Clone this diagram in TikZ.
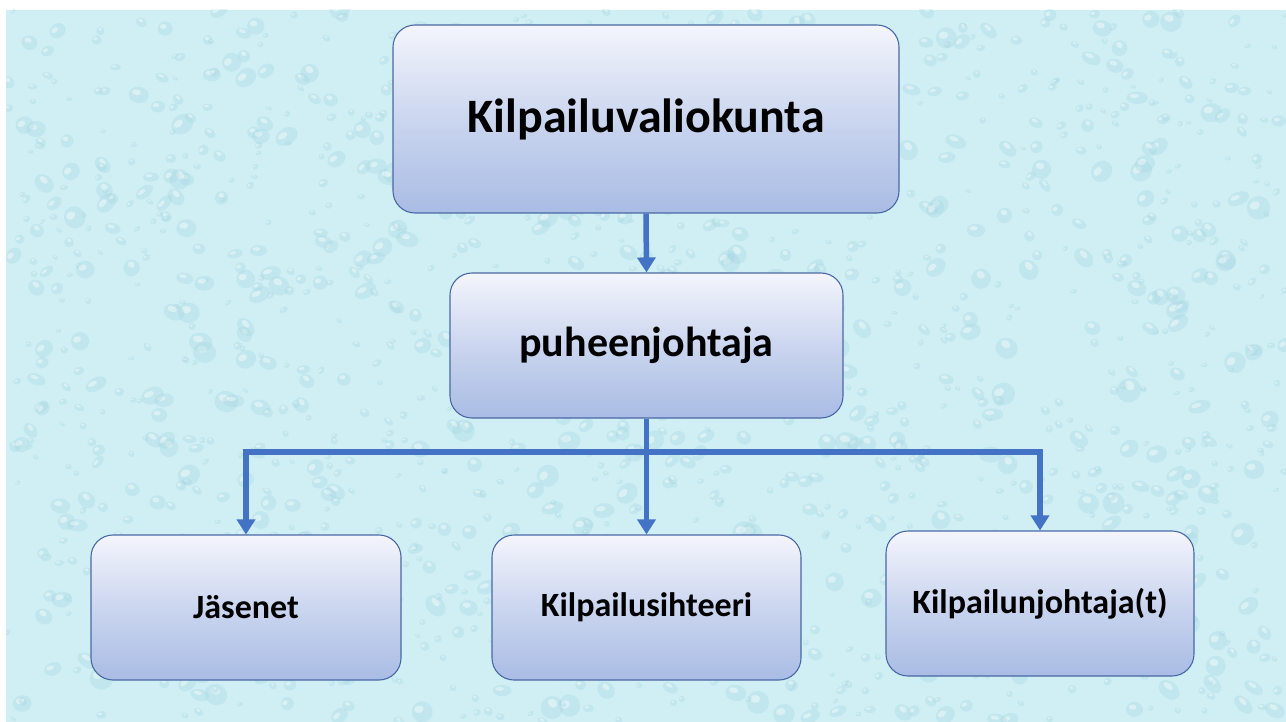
\documentclass[tikz,border=0pt]{standalone}
\usepackage{fontspec}
\setmainfont{Carlito}
\usetikzlibrary{arrows.meta,calc}
\definecolor{bgwater}{HTML}{D0EFF4}
\definecolor{dropshade}{HTML}{A3D5E1}
\definecolor{linkblue}{HTML}{4472C4}
\definecolor{boxedge}{HTML}{4A68A6}
\definecolor{boxtop}{HTML}{F4F5FC}
\definecolor{boxbottom}{HTML}{A9BCE4}
\tikzset{
  orgbox/.style={draw=boxedge, line width=1.1pt, rounded corners=22pt,
    top color=boxtop, bottom color=boxbottom, middle color=boxbottom!55!boxtop,
    font=\bfseries, text=black, inner sep=0pt},
  conn/.style={draw=linkblue, line width=5.5pt,
    -{Triangle[width=18pt,length=15pt]}},
  busline/.style={draw=linkblue, line width=5.5pt},
}
\begin{document}
\begin{tikzpicture}[x=1pt,y=-1pt]
  \useasboundingbox (0,0) rectangle (1286,722);
  % water background with scattered drops
  \fill[bgwater] (6,10) rectangle (1286,722);
  \begin{scope}
    \clip (6,10) rectangle (1286,722);
    \pgfmathsetseed{11}
    \foreach \i in {1,...,1500}{
      \pgfmathsetmacro{\dx}{6+1280*rnd}
      \pgfmathsetmacro{\dy}{10+712*rnd}
      \pgfmathsetmacro{\rx}{3+9*rnd^2}
      \pgfmathsetmacro{\ry}{\rx*(0.55+0.5*rnd)}
      \pgfmathsetmacro{\ang}{-50+100*rnd}
      \begin{scope}[rotate around={\ang:(\dx,\dy)}]
        \fill[dropshade, opacity=0.32]
          (\dx,\dy) ellipse [x radius=\rx, y radius=\ry];
        \fill[white, opacity=0.4]
          (\dx-0.25*\rx,\dy-0.3*\ry) ellipse [x radius=0.45*\rx, y radius=0.35*\ry];
      \end{scope}
    }
  \end{scope}

  % boxes
  \node[orgbox, minimum width=506pt, minimum height=188pt, font=\bfseries\fontsize{48}{57}\selectfont]
    (top) at (646,119) {Kilpailuvaliokunta};
  \node[orgbox, minimum width=393pt, minimum height=145pt, font=\bfseries\fontsize{42}{50}\selectfont]
    (chair) at (646.5,345.5) {puheenjohtaja};
  \node[orgbox, minimum width=310pt, minimum height=145pt, font=\bfseries\fontsize{34}{41}\selectfont]
    (mem) at (246,607.5) {Jäsenet};
  \node[orgbox, minimum width=309pt, minimum height=145pt, font=\bfseries\fontsize{34}{41}\selectfont]
    (sec) at (646.5,607.5) {Kilpailusihteeri};
  \node[orgbox, minimum width=308pt, minimum height=145pt, font=\bfseries\fontsize{34}{41}\selectfont]
    (lead) at (1040,603.5) {Kilpailunjohtaja(t)};

  % connectors
  \coordinate (bus) at (646,452);
  \draw[conn] (top.south) -- (chair.north);
  \draw[conn] (chair.south) -- (sec.north);
  \draw[busline] ([xshift=-2.75pt]mem.north |- bus) -- ([xshift=2.75pt]lead.north |- bus);
  \draw[conn] (mem.north |- bus) -- (mem.north);
  \draw[conn] (lead.north |- bus) -- (lead.north);
\end{tikzpicture}
\end{document}
